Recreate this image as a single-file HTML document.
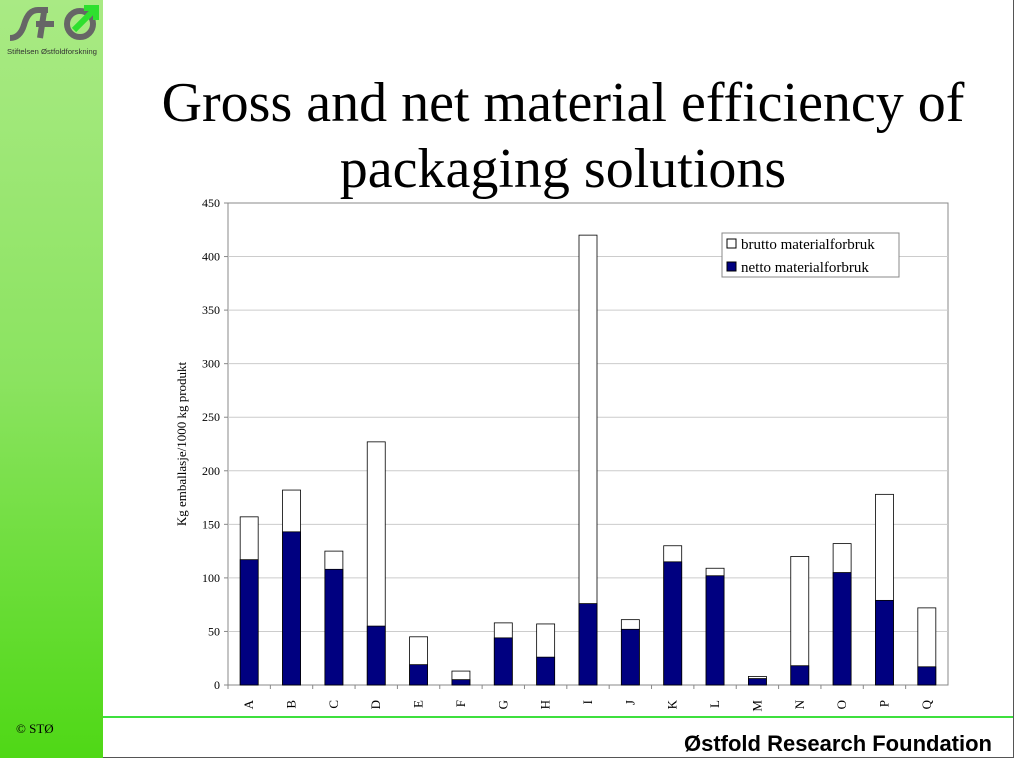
<!DOCTYPE html>
<html><head><meta charset="utf-8"><style>
body{margin:0;width:1024px;height:768px;background:#fff;overflow:hidden;font-family:"Liberation Serif",serif}
#slide{position:absolute;left:0;top:0;width:1013px;height:757px;border:1px solid #555;border-left:none;border-top:none;}
#side{position:absolute;left:0;top:0;width:103px;height:758px;background:linear-gradient(#a9ea84,#8be360 50%,#4fd816)}
#title{position:absolute;left:103px;width:920px;top:70px;text-align:center;font-size:56px;line-height:66px;color:#000}
#foot{position:absolute;left:103px;top:716px;width:910px;height:2px;background:#3ee03e}
#org{position:absolute;right:32px;top:731px;font:bold 22px "Liberation Sans",sans-serif}
#copy{position:absolute;left:16px;top:721px;font-size:13px}
</style></head><body>
<div id="slide"></div>
<div id="side">
<svg width="103" height="60">
<path d="M10 38 Q20 38 24 25 Q28 10 38 10 L48 10" stroke="#666" stroke-width="6" fill="none"/>
<path d="M44 12 L40 38 M36 24 L54 24" stroke="#666" stroke-width="6" fill="none"/>
<circle cx="80" cy="24" r="13" stroke="#666" stroke-width="6" fill="none"/>
<path d="M74 30 L96 8 M84 8 L96 8 L96 20" stroke="#2ee02e" stroke-width="6" fill="none"/>
<text x="7" y="54" font-size="7.5" font-family="Liberation Sans" fill="#333" textLength="90" lengthAdjust="spacingAndGlyphs">Stiftelsen Østfoldforskning</text>
</svg>
</div>
<div id="title">Gross and net material efficiency of<br>packaging solutions</div>
<svg id="chart" width="1024" height="768" style="position:absolute;left:0;top:0"></svg>
<div id="foot"></div>
<div id="copy">© STØ</div>
<div id="org">Østfold Research Foundation</div>
<script>
const categories=["A","B","C","D","E","F","G","H","I","J","K","L","M","N","O","P","Q"];
const grossValues=[157,182,125,227,45,13,58,57,420,61,130,109,8,120,132,178,72];
const netValues=[117,143,108,55,19,5,44,26,76,52,115,102,6,18,105,79,17];
const yTicks=[0,50,100,150,200,250,300,350,400,450];
const NS="http://www.w3.org/2000/svg";
const svg=document.getElementById('chart');
const X0=228,X1=948,Y0=685,Y1=203;
const slot=(X1-X0)/categories.length;
const y=v=>Y0-(v/450)*(Y0-Y1);
const xc=i=>X0+slot*(i+0.5);
function mk(t,a){const e=document.createElementNS(NS,t);for(const k in a)e.setAttribute(k,a[k]);svg.appendChild(e);return e;}
let r=mk('rect',{x:X0,y:Y1,width:X1-X0,height:Y0-Y1,fill:'#fff',stroke:'#888'});


yTicks.forEach(t=>{
 if(t>0&&t<450){const l=mk('line',{x1:X0,x2:X1,y1:y(t),y2:y(t),stroke:'#ccc'});
 
 }
 mk('line',{x1:X0-4,x2:X0,y1:y(t),y2:y(t),stroke:'#888'});
 const tx=mk('text',{x:X0-8,y:y(t)+4,'font-size':12,'text-anchor':'end'});tx.textContent=t;
 
 
});
categories.forEach((c,i)=>{
 const bw=18,bx=xc(i)-bw/2;
 const g=mk('rect',{x:bx,y:y(grossValues[i]),width:bw,height:Y0-y(grossValues[i]),fill:'#fff',stroke:'#000','stroke-width':0.8});
 
 
 const n=mk('rect',{x:bx,y:y(netValues[i]),width:bw,height:Y0-y(netValues[i]),fill:'#000080',stroke:'#000','stroke-width':0.8});
 
 
 mk('line',{x1:X0+slot*i,x2:X0+slot*i,y1:Y0,y2:Y0+4,stroke:'#888'});
 const tx=mk('text',{x:xc(i)+4,y:700,'font-size':13,'text-anchor':'end',transform:`rotate(-90 ${xc(i)+4} 700)`});
 tx.textContent=c;
 
 
});
const yt=mk('text',{x:186,y:444,'font-size':13,'text-anchor':'middle',transform:'rotate(-90 186 444)'});
yt.textContent='Kg emballasje/1000 kg produkt';


const lg=mk('rect',{x:722,y:233,width:177,height:44,fill:'#fff',stroke:'#888'});


[['brutto materialforbruk','#fff',244],['netto materialforbruk','#000080',267]].forEach(([t,f,yy])=>{
 mk('rect',{x:727,y:yy-5,width:9,height:9,fill:f,stroke:'#000'});
 const tx=mk('text',{x:741,y:yy+5,'font-size':15});tx.textContent=t;
 
 
});
</script>
</body></html>
